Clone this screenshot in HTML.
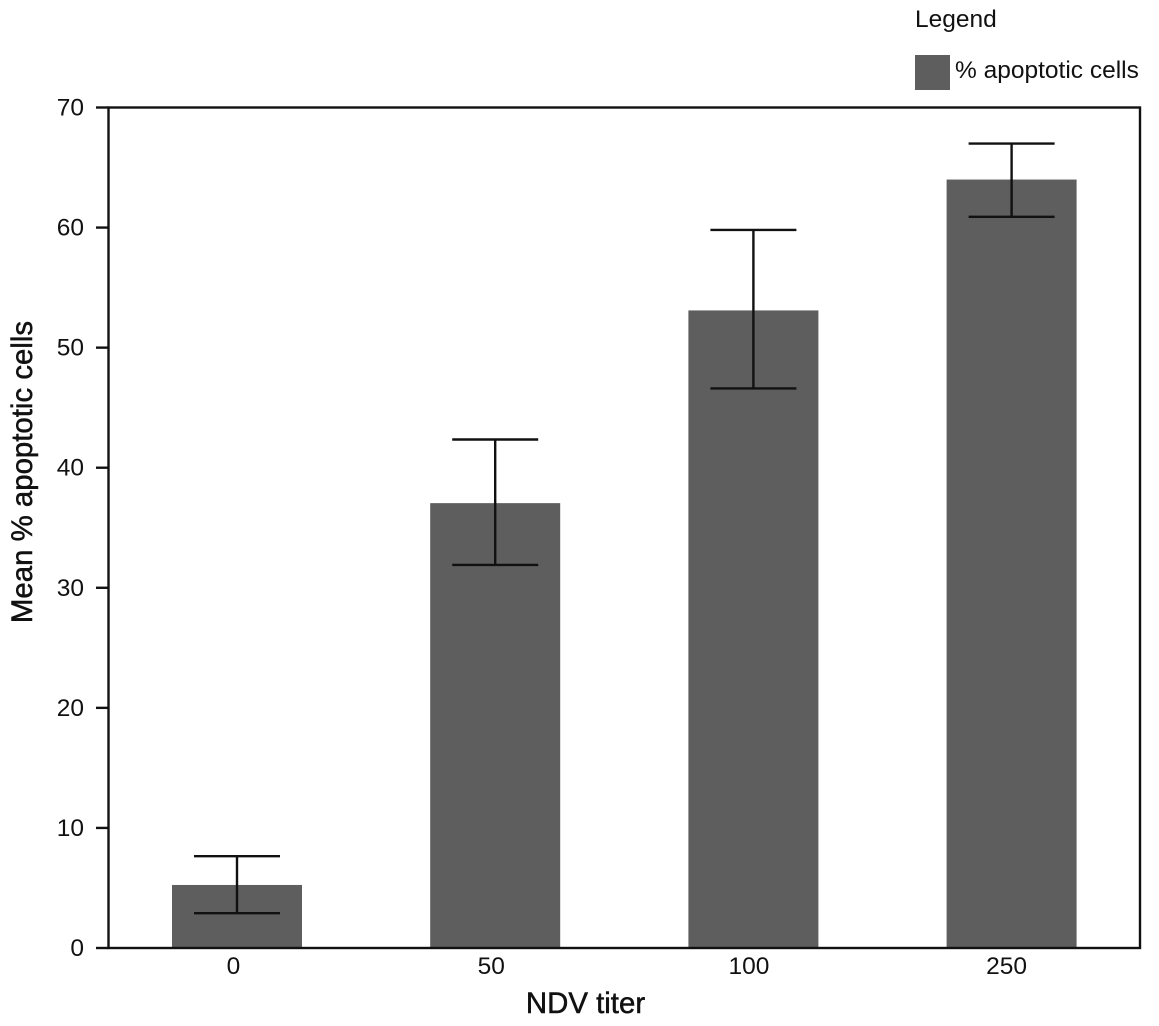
<!DOCTYPE html>
<html>
<head>
<meta charset="utf-8">
<title>Mean % apoptotic cells by NDV titer</title>
<style>
html,body{margin:0;padding:0;background:#fff;}
svg{display:block;}
text{font-family:"Liberation Sans",Arial,sans-serif;fill:#111;}
</style>
</head>
<body>
<svg id="chart" xmlns="http://www.w3.org/2000/svg" width="1159" height="1026" viewBox="0 0 1159 1026"></svg>
<script>
const categories = ["0", "50", "100", "250"];
const meanValues = [5.25, 37.05, 53.1, 64.0];
const errorUpper = [7.65, 42.35, 59.8, 67.0];
const errorLower = [2.9, 31.9, 46.6, 60.9];
const yTicks = [0, 10, 20, 30, 40, 50, 60, 70];

const svg = document.getElementById('chart');
const NS = 'http://www.w3.org/2000/svg';
const plot = {left: 108.5, right: 1140, top: 107.5, bottom: 948};
const yMax = 70;
const barCenterStart = 237, barStep = 258.2, barWidth = 130, capWidth = 86;
const labelCenterStart = 233.5, labelStep = 257.7;
const lineWidth = 2.4;

function yScale(v) { return plot.bottom - (v / yMax) * (plot.bottom - plot.top); }
function xScale(i) { return barCenterStart + i * barStep; }
function labelX(i) { return labelCenterStart + i * labelStep; }

function make(tag, attrs, parent) {
  const el = document.createElementNS(NS, tag);
  for (const k in attrs) el.setAttribute(k, attrs[k]);
  (parent || svg).appendChild(el);
  return el;
}
function line(x1, y1, x2, y2, w) {
  return make('line', {x1: x1, y1: y1, x2: x2, y2: y2, stroke: '#111', 'stroke-width': w || lineWidth});
}

// Bars
categories.forEach(function (c, i) {
  const y = yScale(meanValues[i]);
  const bar = make('rect', {x: xScale(i) - barWidth / 2, y: y, width: barWidth, height: plot.bottom - y, fill: '#5e5e5e'});
  
  
});

// Frame
const frame = make('rect', {x: plot.left, y: plot.top, width: plot.right - plot.left, height: plot.bottom - plot.top, fill: 'none', stroke: '#111', 'stroke-width': lineWidth});



// Error bars
categories.forEach(function (c, i) {
  const x = xScale(i);
  const g = make('g', {});
  
  
  const yu = yScale(errorUpper[i]);
  const yl = yScale(errorLower[i]);
  make('line', {x1: x, y1: yu, x2: x, y2: yl, stroke: '#111', 'stroke-width': lineWidth}, g);
  make('line', {x1: x - capWidth / 2, y1: yu, x2: x + capWidth / 2, y2: yu, stroke: '#111', 'stroke-width': lineWidth}, g);
  make('line', {x1: x - capWidth / 2, y1: yl, x2: x + capWidth / 2, y2: yl, stroke: '#111', 'stroke-width': lineWidth}, g);
});

// Y ticks and labels
yTicks.forEach(function (t) {
  const y = yScale(t);
  const tick = line(96, y, plot.left, y, lineWidth);
  
  
  const label = make('text', {x: 84, y: y + 8, 'font-size': 24.5, 'text-anchor': 'end'});
  label.textContent = String(t);
  
  
});

// X labels
categories.forEach(function (c, i) {
  const label = make('text', {x: labelX(i), y: 974, 'font-size': 24.5, 'text-anchor': 'middle'});
  label.textContent = c;
  
  
});

// Axis titles
const xTitle = make('text', {x: 585.5, y: 1013, 'font-size': 29.4, 'text-anchor': 'middle', stroke: '#111', 'stroke-width': 0.5});
xTitle.textContent = 'NDV titer';



const yTitle = make('text', {x: 0, y: 0, 'font-size': 29.4, 'text-anchor': 'middle', stroke: '#111', 'stroke-width': 0.5, transform: 'translate(32 472) rotate(-90)'});
yTitle.textContent = 'Mean % apoptotic cells';



// Legend
const legend = make('g', {});


const legendTitle = make('text', {x: 915, y: 27, 'font-size': 24.5}, legend);
legendTitle.textContent = 'Legend';


const swatch = make('rect', {x: 915, y: 55, width: 35, height: 35, fill: '#5e5e5e'}, legend);


const legendLabel = make('text', {x: 955, y: 78, 'font-size': 24.5}, legend);
legendLabel.textContent = '% apoptotic cells';


</script>
</body>
</html>
